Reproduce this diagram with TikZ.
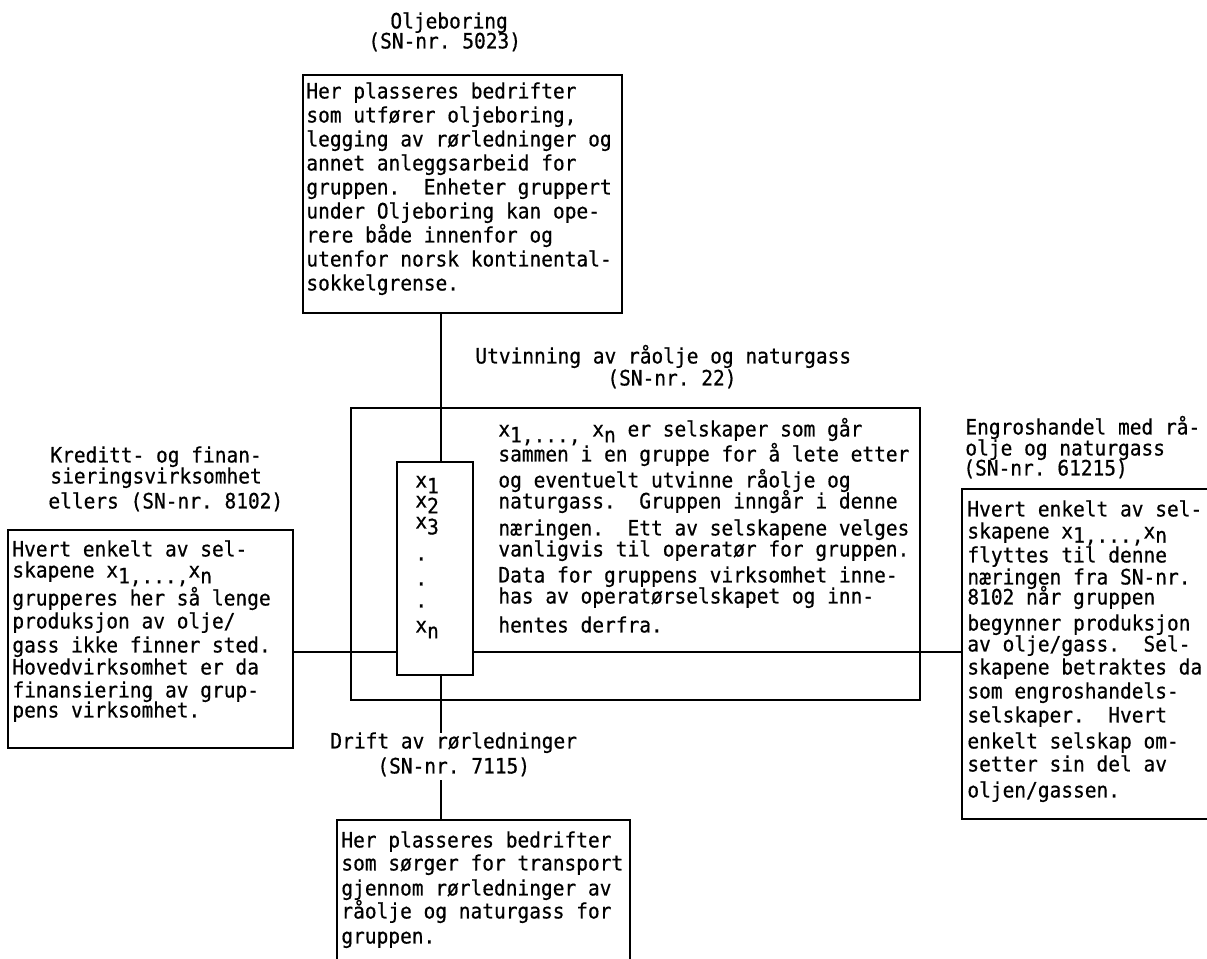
\documentclass[tikz,border=0pt]{standalone}
\usepackage{fontspec}
\setmainfont{DejaVu Sans Mono}[FakeStretch=0.92,FakeBold=0.6]
\usetikzlibrary{fit}
\newcommand\lowr[1]{\raisebox{-0.28em}{#1}}
\newcommand\lowrs[1]{\raisebox{-0.2em}{#1}}
\begin{document}
\frenchspacing
\begin{tikzpicture}[x=0.5pt,y=-0.5pt,
  txt/.style={anchor=mid west, inner sep=0pt, font=\fontsize{10.6}{11}\selectfont},
  box/.style={draw, line width=0.9pt, inner sep=0pt},
  conn/.style={line width=0.9pt}]
\useasboundingbox (0,0) rectangle (1207,959);

% ---------- top: Oljeboring ----------
\node[txt] (h1a) at (390,23) {Oljeboring};
\node[txt] (h1b) at (368,43) {(SN-nr. 5023)};
\node[box, fit={(303,75) (622,313)}] (topbox) {};
\node[txt] (t1) at (306,93)  {Her plasseres bedrifter};
\node[txt] (t2) at (306,117) {som utfører oljeboring,};
\node[txt] (t3) at (306,141) {legging av rørledninger og};
\node[txt] (t4) at (306,165) {annet anleggsarbeid for};
\node[txt] (t5) at (306,189) {gruppen.~~Enheter gruppert};
\node[txt] (t6) at (306,213) {under Oljeboring kan ope-};
\node[txt] (t7) at (306,237) {rere både innenfor og};
\node[txt] (t8) at (306,261) {utenfor norsk kontinental-};
\node[txt] (t9) at (306,285) {sokkelgrense.};

% ---------- centre: Utvinning ----------
\node[txt] (h2a) at (475,358) {Utvinning av råolje og naturgass};
\node[txt] (h2b) at (607,380) {(SN-nr. 22)};
\node[box, fit={(351,408) (920,700)}] (cbox) {};
\node[box, fit={(397,462) (473,675)}] (sbox) {};
\node[txt] (s1) at (415,482) {x\lowr{1}};
\node[txt] (s2) at (415,502) {x\lowr{2}};
\node[txt] (s3) at (415,523) {x\lowr{3}};
\node[txt] (s4) at (415,555) {.};
\node[txt] (s5) at (415,580) {.};
\node[txt] (s6) at (415,602) {.};
\node[txt] (s7) at (415,627) {x\lowr{n}};
\node[txt] (c1) at (498,431) {x\lowr{1,...,} x\lowr{n} er selskaper som går};
\node[txt] (c2) at (498,456) {sammen i en gruppe for å lete etter};
\node[txt] (c3) at (498,482) {og eventuelt utvinne råolje og};
\node[txt] (c4) at (498,503) {naturgass.~~Gruppen inngår i denne};
\node[txt] (c5) at (498,530) {næringen.~~Ett av selskapene velges};
\node[txt] (c6) at (498,551) {vanligvis til operatør for gruppen.};
\node[txt] (c7) at (498,577) {Data for gruppens virksomhet inne-};
\node[txt] (c8) at (498,598) {has av operatørselskapet og inn-};
\node[txt] (c9) at (498,627) {hentes derfra.};

% ---------- left: Kreditt ----------
\node[txt] (h3a) at (50,457) {Kreditt- og finan-};
\node[txt] (h3b) at (50,478) {sieringsvirksomhet};
\node[txt] (h3c) at (48,503) {ellers (SN-nr. 8102)};
\node[box, fit={(8,530) (293,748)}] (lbox) {};
\node[txt] (l1) at (12,551) {Hvert enkelt av sel-};
\node[txt] (l2) at (12,572) {skapene x\lowr{1,...,}x\lowr{n}};
\node[txt] (l3) at (12,600) {grupperes her så lenge};
\node[txt] (l4) at (12,623) {produksjon av olje/};
\node[txt] (l5) at (12,647) {gass ikke finner sted.};
\node[txt] (l6) at (12,669) {Hovedvirksomhet er da};
\node[txt] (l7) at (12,692) {finansiering av grup-};
\node[txt] (l8) at (12,712) {pens virksomhet.};

% ---------- right: Engroshandel ----------
\node[txt] (h4a) at (965,429) {Engroshandel med rå-};
\node[txt] (h4b) at (965,450) {olje og naturgass};
\node[txt] (h4c) at (963,470) {(SN-nr. 61215)};
\coordinate (rtl) at (962,489);
\coordinate (rbl) at (962,819);
\draw[conn] (1207,489) -- (rtl) -- (rbl) -- (1207,819);
\node[txt] (r1)  at (967,511) {Hvert enkelt av sel-};
\node[txt] (r2)  at (967,533) {skapene x\lowrs{1,...,}x\lowrs{n}};
\node[txt] (r3)  at (967,557) {flyttes til denne};
\node[txt] (r4)  at (967,579) {næringen fra SN-nr.};
\node[txt] (r5)  at (967,599) {8102 når gruppen};
\node[txt] (r6)  at (967,625) {begynner produksjon};
\node[txt] (r7)  at (967,646) {av olje/gass.~~Sel-};
\node[txt] (r8)  at (967,669) {skapene betraktes da};
\node[txt] (r9)  at (967,693) {som engroshandels-};
\node[txt] (r10) at (967,717) {selskaper.~~Hvert};
\node[txt] (r11) at (967,743) {enkelt selskap om-};
\node[txt] (r12) at (967,766) {setter sin del av};
\node[txt] (r13) at (967,792) {oljen/gassen.};

% ---------- bottom: Drift ----------
\node[txt] (h5a) at (330,743) {Drift av rørledninger};
\node[txt] (h5b) at (377,768) {(SN-nr. 7115)};
\coordinate (btl) at (337,820);
\coordinate (btr) at (630,820);
\draw[conn] (337,959) -- (btl) -- (btr) -- (630,959);
\node[txt] (b1) at (341,842) {Her plasseres bedrifter};
\node[txt] (b2) at (341,865) {som sørger for transport};
\node[txt] (b3) at (341,890) {gjennom rørledninger av};
\node[txt] (b4) at (341,913) {råolje og naturgass for};
\node[txt] (b5) at (341,938) {gruppen.};

% ---------- connectors ----------
\coordinate (vx) at (441,0);
\coordinate (hy) at (0,652);
\coordinate (d1) at (441,733);
\coordinate (d2) at (441,780);
\draw[conn] (topbox.south -| vx) -- (sbox.north -| vx);
\draw[conn] (sbox.south -| vx) -- (d1);
\draw[conn] (d2) -- (btl -| vx);
\draw[conn] (lbox.east |- hy) -- (sbox.west |- hy);
\draw[conn] (sbox.east |- hy) -- (rtl |- hy);
\end{tikzpicture}
\end{document}
